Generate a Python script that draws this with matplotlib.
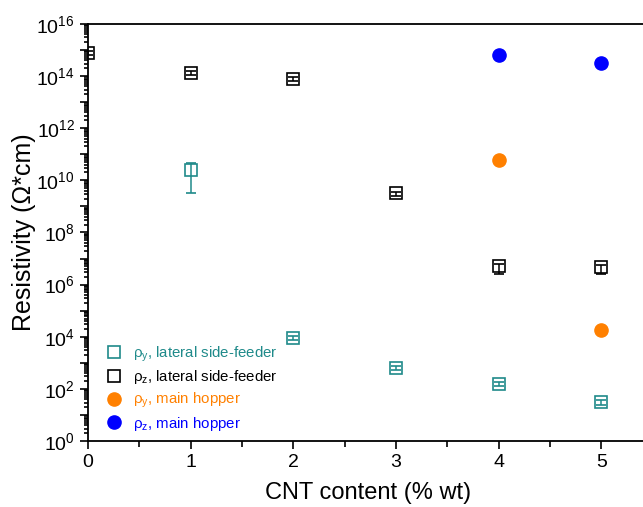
import numpy as np
import matplotlib
matplotlib.use("Agg")
import matplotlib.pyplot as plt
from matplotlib.lines import Line2D
from matplotlib.ticker import LogLocator, FuncFormatter, MultipleLocator, NullFormatter

plt.rcParams['font.family'] = ['Liberation Sans', 'DejaVu Sans']
plt.rcParams['mathtext.fontset'] = 'custom'
plt.rcParams['mathtext.rm'] = 'Liberation Sans'
plt.rcParams['mathtext.it'] = 'Liberation Sans'

# Resistivity data (Ohm*cm) vs CNT content (% wt)
x_lat_y = [1, 2, 3, 4, 5]
rho_y_lat = [2.5e10, 8.9e3, 6.3e2, 1.54e2, 3.1e1]
rho_y_lat_lo = [2.17e10, 1.5e3, 1.2e2, 3.0e1, 6.0]
rho_y_lat_hi = [2.1e10, 1.5e3, 1.2e2, 3.0e1, 6.0]

x_lat_z = [0, 1, 2, 3, 4, 5]
rho_z_lat = [7.8e14, 1.3e14, 7.8e13, 3.3e9, 5.2e6, 4.8e6]
rho_z_lat_lo = [1.5e14, 2.5e13, 1.2e13, 8.0e8, 2.6e6, 2.3e6]
rho_z_lat_hi = [1.5e14, 2.5e13, 1.2e13, 4.0e8, 8.0e5, 8.0e5]

x_main = [4, 5]
rho_y_main = [6.0e10, 1.8e4]
rho_z_main = [6.5e14, 3.2e14]

labels = ['\u03c1$_{y}$, lateral side-feeder', '\u03c1$_{z}$, lateral side-feeder',
          '\u03c1$_{y}$, main hopper', '\u03c1$_{z}$, main hopper']

teal = '#1f8a8a'
orange = '#ff8000'
blue = '#0000ff'

fig = plt.figure(figsize=(6.43, 5.07), dpi=100)
ax = fig.add_axes([0.137, 0.130, 0.87, 0.823])

ax.errorbar(x_lat_y, rho_y_lat, yerr=[rho_y_lat_lo, rho_y_lat_hi], fmt='s',
            mfc='none', mec=teal, ecolor=teal, ms=8, mew=1.2, capsize=3.5,
            elinewidth=1.1, capthick=1.1, zorder=3)
ax.errorbar(x_lat_z, rho_z_lat, yerr=[rho_z_lat_lo, rho_z_lat_hi], fmt='s',
            mfc='none', mec='black', ecolor='black', ms=8, mew=1.2, capsize=3.5,
            elinewidth=1.1, capthick=1.1, zorder=3)
ax.plot(x_main, rho_y_main, 'o', color=orange, ms=9.5, zorder=3)
ax.plot(x_main, rho_z_main, 'o', color=blue, ms=9.5, zorder=3)

ax.set_yscale('log')
ax.set_ylim(1, 1e16)
ax.set_xlim(0, 5.45)

ax.yaxis.set_major_locator(LogLocator(base=10, numticks=40))
ax.yaxis.set_minor_locator(LogLocator(base=10, subs=np.arange(2, 10), numticks=40))
ax.yaxis.set_minor_formatter(NullFormatter())


def even_decades(v, pos):
    e = int(round(np.log10(v)))
    return r'$10^{%d}$' % e if e % 2 == 0 else ''


ax.yaxis.set_major_formatter(FuncFormatter(even_decades))
ax.xaxis.set_major_locator(MultipleLocator(1))
ax.xaxis.set_minor_locator(MultipleLocator(0.5))

ax.tick_params(which='both', direction='out', width=1.2, labelsize=14)
ax.tick_params(which='major', length=6)
ax.tick_params(which='minor', length=3)
ax.tick_params(axis='x', which='minor', length=4)
for s in ax.spines.values():
    s.set_linewidth(1.3)

ax.set_xlabel('CNT content (% wt)', fontsize=17, labelpad=8)
ax.set_ylabel('Resistivity (\u03a9*cm)', fontsize=18, labelpad=0)

handles = [
    Line2D([], [], ls='none', marker='s', ms=8, mfc='white', mec=teal, mew=1.2),
    Line2D([], [], ls='none', marker='s', ms=8, mfc='white', mec='black', mew=1.2),
    Line2D([], [], ls='none', marker='o', ms=9.5, color=orange),
    Line2D([], [], ls='none', marker='o', ms=9.5, color=blue),
]
leg = ax.legend(handles, labels, loc='lower left', bbox_to_anchor=(0.0, -0.005),
                frameon=False, fontsize=10.8, handletextpad=0.3,
                labelspacing=0.3, borderaxespad=0.3)
for txt, c in zip(leg.get_texts(), [teal, 'black', orange, blue]):
    txt.set_color(c)

fig.savefig('out.png', dpi=100)
